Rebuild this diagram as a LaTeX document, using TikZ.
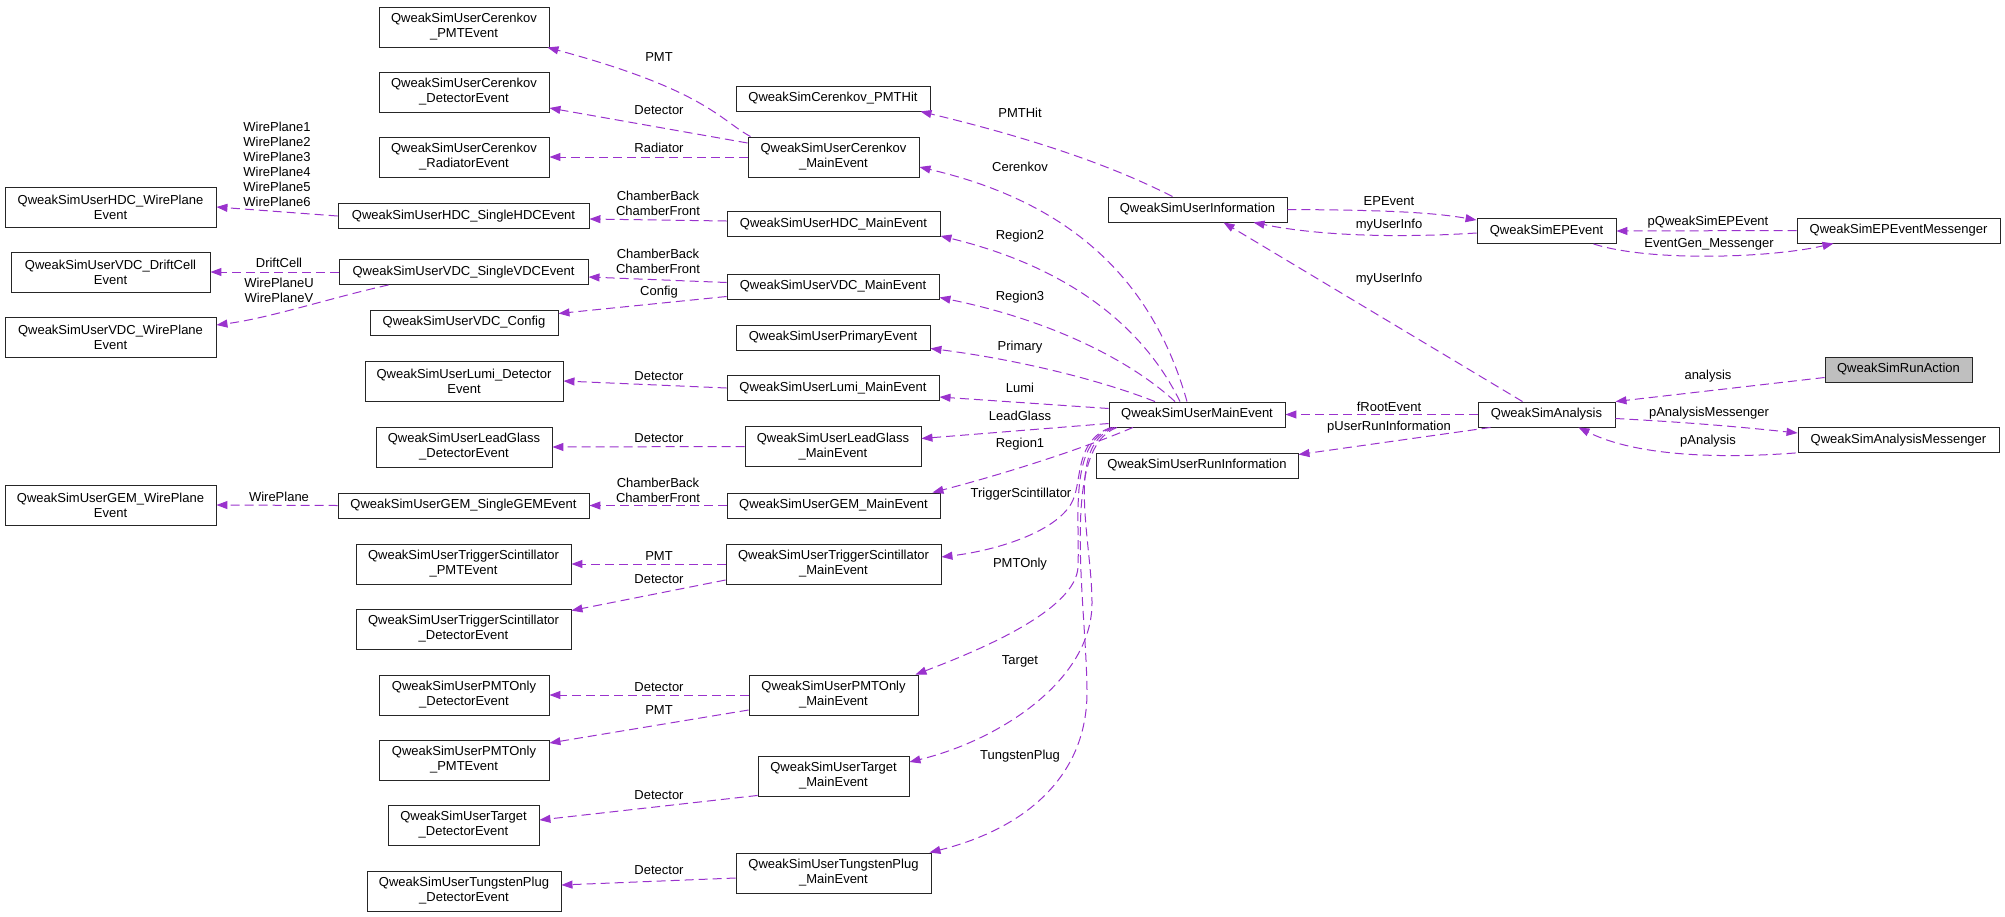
\documentclass[tikz,border=0pt]{standalone}
\usepackage{fontspec}
\setmainfont{Liberation Sans}
\usetikzlibrary{arrows.meta,positioning}
\definecolor{edgepurple}{HTML}{9A32CD}
\definecolor{rootgray}{HTML}{BFBFBF}

\begin{document}
\begin{tikzpicture}[x=1pt,y=-1pt,
    member/.style={draw=edgepurple,line width=1pt,dash pattern=on 9pt off 5pt,-{Triangle[length=11pt,width=8pt]}},
    lbl/.style={inner sep=0pt,font=\fontsize{13}{15}\selectfont,align=center}]%
                    \useasboundingbox (0,0) rectangle (2005,916);%%
                    \begin{scope}
                        \tikzstyle{every node}=[draw=black!85,fill=white,line width=0.9pt,inner sep=0pt,minimum height=25pt,align=center,font=\fontsize{13}{15}\selectfont];%%
                        \tikzstyle{tall}=[minimum height=40pt];%%
                        % left columns
                        \node[minimum width=170,tall] (cerPMT) at (464,27) {QweakSimUserCerenkov\\\_PMTEvent}; %%
                        \node[minimum width=170,tall] (cerDet) at (464,92) {QweakSimUserCerenkov\\\_DetectorEvent}; %%
                        \node[minimum width=170,tall] (cerRad) at (464,157) {QweakSimUserCerenkov\\\_RadiatorEvent}; %%
                        \node[minimum width=211,tall] (hdcWP) at (110.5,207) {QweakSimUserHDC\_WirePlane\\Event}; %%
                        \node[minimum width=251] (hdcSingle) at (463.5,216) {QweakSimUserHDC\_SingleHDCEvent}; %%
                        \node[minimum width=199,tall] (vdcDC) at (110.5,272) {QweakSimUserVDC\_DriftCell\\Event}; %%
                        \node[minimum width=249] (vdcSingle) at (463.5,272) {QweakSimUserVDC\_SingleVDCEvent}; %%
                        \node[minimum width=211,tall] (vdcWP) at (110.5,337) {QweakSimUserVDC\_WirePlane\\Event}; %%
                        \node[minimum width=188] (vdcCfg) at (464,322.5) {QweakSimUserVDC\_Config}; %%
                        \node[minimum width=198,tall] (lumiDet) at (464,381) {QweakSimUserLumi\_Detector\\Event}; %%
                        \node[minimum width=176,tall] (lgDet) at (464,447) {QweakSimUserLeadGlass\\\_DetectorEvent}; %%
                        \node[minimum width=211,tall] (gemWP) at (110.5,505) {QweakSimUserGEM\_WirePlane\\Event}; %%
                        \node[minimum width=251] (gemSingle) at (463.5,505.5) {QweakSimUserGEM\_SingleGEMEvent}; %%
                        \node[minimum width=215,tall] (tsPMT) at (463.5,564) {QweakSimUserTriggerScintillator\\\_PMTEvent}; %%
                        \node[minimum width=215,tall] (tsDet) at (463.5,629) {QweakSimUserTriggerScintillator\\\_DetectorEvent}; %%
                        \node[minimum width=170,tall] (pmtoDet) at (464,695) {QweakSimUserPMTOnly\\\_DetectorEvent}; %%
                        \node[minimum width=170,tall] (pmtoPMT) at (464,760) {QweakSimUserPMTOnly\\\_PMTEvent}; %%
                        \node[minimum width=151,tall] (tgtDet) at (463.5,825) {QweakSimUserTarget\\\_DetectorEvent}; %%
                        \node[minimum width=194,tall] (twDet) at (464,891) {QweakSimUserTungstenPlug\\\_DetectorEvent}; %%
                        % detector main events
                        \node[minimum width=194] (cerHit) at (833,98.5) {QweakSimCerenkov\_PMTHit}; %%
                        \node[minimum width=171,tall] (cerMain) at (833.5,157) {QweakSimUserCerenkov\\\_MainEvent}; %%
                        \node[minimum width=213] (hdcMain) at (833.5,224) {QweakSimUserHDC\_MainEvent}; %%
                        \node[minimum width=212] (vdcMain) at (833,286.5) {QweakSimUserVDC\_MainEvent}; %%
                        \node[minimum width=194] (primEv) at (833,337.5) {QweakSimUserPrimaryEvent}; %%
                        \node[minimum width=212] (lumiMain) at (833,388) {QweakSimUserLumi\_MainEvent}; %%
                        \node[minimum width=176,tall] (lgMain) at (833,446.5) {QweakSimUserLeadGlass\\\_MainEvent}; %%
                        \node[minimum width=213] (gemMain) at (833.5,505.5) {QweakSimUserGEM\_MainEvent}; %%
                        \node[minimum width=215,tall] (tsMain) at (833.5,564) {QweakSimUserTriggerScintillator\\\_MainEvent}; %%
                        \node[minimum width=169,tall] (pmtoMain) at (833.5,695) {QweakSimUserPMTOnly\\\_MainEvent}; %%
                        \node[minimum width=151,tall] (tgtMain) at (833.5,776) {QweakSimUserTarget\\\_MainEvent}; %%
                        \node[minimum width=195,tall] (twMain) at (833.5,873) {QweakSimUserTungstenPlug\\\_MainEvent}; %%
                        % right part
                        \node[minimum width=179] (userInfo) at (1197.5,209.5) {QweakSimUserInformation}; %%
                        \node[minimum width=176] (mainEv) at (1197,414.5) {QweakSimUserMainEvent}; %%
                        \node[minimum width=202] (runInfo) at (1197,465.5) {QweakSimUserRunInformation}; %%
                        \node[minimum width=139] (epEv) at (1546.5,231) {QweakSimEPEvent}; %%
                        \node[minimum width=137] (analysis) at (1546.5,414.5) {QweakSimAnalysis}; %%
                        \node[minimum width=203] (epMsg) at (1898.5,230.5) {QweakSimEPEventMessenger}; %%
                        \node[minimum width=147,fill=rootgray] (runAct) at (1898.5,369.5) {QweakSimRunAction}; %%
                        \node[minimum width=201] (anaMsg) at (1898.5,440) {QweakSimAnalysisMessenger}; %%
                    \end{scope}
                        % edge labels
                        \node[lbl] (lCerPMT) at (659,57) {PMT}; %%
                        \node[lbl] (lCerDet) at (659,110) {Detector}; %%
                        \node[lbl] (lCerRad) at (659,148) {Radiator}; %%
                        \node[lbl] (lHdcWP) at (277,164) {WirePlane1\\WirePlane2\\WirePlane3\\WirePlane4\\WirePlane5\\WirePlane6}; %%
                        \node[lbl] (lHdcCh) at (658,203) {ChamberBack\\ChamberFront}; %%
                        \node[lbl] (lVdcDC) at (279,263) {DriftCell}; %%
                        \node[lbl] (lVdcWP) at (279,290.5) {WirePlaneU\\WirePlaneV}; %%
                        \node[lbl] (lVdcCh) at (658,261) {ChamberBack\\ChamberFront}; %%
                        \node[lbl] (lVdcCfg) at (659,292) {Config}; %%
                        \node[lbl] (lLumiDet) at (659,376) {Detector}; %%
                        \node[lbl] (lLgDet) at (659,438) {Detector}; %%
                        \node[lbl] (lGemWP) at (279,497) {WirePlane}; %%
                        \node[lbl] (lGemCh) at (658,490) {ChamberBack\\ChamberFront}; %%
                        \node[lbl] (lTsPMT) at (659,556) {PMT}; %%
                        \node[lbl] (lTsDet) at (659,579) {Detector}; %%
                        \node[lbl] (lPmtoDet) at (659,687) {Detector}; %%
                        \node[lbl] (lPmtoPMT) at (659,710) {PMT}; %%
                        \node[lbl] (lTgtDet) at (659,795) {Detector}; %%
                        \node[lbl] (lTwDet) at (659,870) {Detector}; %%
                        \node[lbl] (lHit) at (1020,113) {PMTHit}; %%
                        \node[lbl] (lCer) at (1020,167) {Cerenkov}; %%
                        \node[lbl] (lR2) at (1020,236) {Region2}; %%
                        \node[lbl] (lR3) at (1020,297) {Region3}; %%
                        \node[lbl] (lPrim) at (1020,347) {Primary}; %%
                        \node[lbl] (lLumi) at (1020,388) {Lumi}; %%
                        \node[lbl] (lLg) at (1020,416) {LeadGlass}; %%
                        \node[lbl] (lR1) at (1020,444) {Region1}; %%
                        \node[lbl] (lTs) at (1021,494) {TriggerScintillator}; %%
                        \node[lbl] (lPmto) at (1020,564) {PMTOnly}; %%
                        \node[lbl] (lTgt) at (1020,661) {Target}; %%
                        \node[lbl] (lTw) at (1020,756) {TungstenPlug}; %%
                        \node[lbl] (lEP) at (1389,201) {EPEvent}; %%
                        \node[lbl] (lInfoA) at (1389,225) {myUserInfo}; %%
                        \node[lbl] (lInfoB) at (1389,279) {myUserInfo}; %%
                        \node[lbl] (lRoot) at (1389,407) {fRootEvent}; %%
                        \node[lbl] (lRunInfo) at (1389,427) {pUserRunInformation}; %%
                        \node[lbl] (lPEP) at (1708,222) {pQweakSimEPEvent}; %%
                        \node[lbl] (lGen) at (1709,244) {EventGen\_Messenger}; %%
                        \node[lbl] (lAna) at (1708,376) {analysis}; %%
                        \node[lbl] (lAnaMsg) at (1709,413) {pAnalysisMessenger}; %%
                        \node[lbl] (lPAna) at (1708,441) {pAnalysis}; %%
                        % left edges
                        \draw[member] ([xshift=3pt]cerMain.north west) .. controls (720,120) and (705,90) .. ([xshift=-2pt]cerPMT.south east); %%
                        \draw[member] ([yshift=14pt]cerMain.west) -- ([yshift=-16pt]cerDet.east); %%
                        \draw[member] (cerMain.west) -- (cerRad.east); %%
                        \draw[member] (hdcSingle.west) -- (hdcWP.east); %%
                        \draw[member] ([yshift=3pt]hdcMain.west) -- ([yshift=-3pt]hdcSingle.east); %%
                        \draw[member] (vdcSingle.west) -- (vdcDC.east); %%
                        \draw[member] ([xshift=-75pt]vdcSingle.south) .. controls (330,298) and (270,318) .. ([yshift=12pt]vdcWP.east); %%
                        \draw[member] ([yshift=4pt]vdcMain.west) -- ([yshift=-5pt]vdcSingle.east); %%
                        \draw[member] ([yshift=-10pt]vdcMain.west) -- ([yshift=9pt]vdcCfg.east); %%
                        \draw[member] (lumiMain.west) -- (lumiDet.east); %%
                        \draw[member] (lgMain.west) -- (lgDet.east); %%
                        \draw[member] (gemSingle.west) -- (gemWP.east); %%
                        \draw[member] (gemMain.west) -- (gemSingle.east); %%
                        \draw[member] (tsMain.west) -- (tsPMT.east); %%
                        \draw[member] ([yshift=-16pt]tsMain.west) -- ([yshift=-2pt]tsDet.north east); %%
                        \draw[member] (pmtoMain.west) -- (pmtoDet.east); %%
                        \draw[member] ([yshift=-15pt]pmtoMain.west) -- ([yshift=17pt]pmtoPMT.east); %%
                        \draw[member] ([yshift=1pt]tgtMain.south west) -- ([yshift=5pt]tgtDet.east); %%
                        \draw[member] ([yshift=-5pt]twMain.west) -- ([yshift=6pt]twDet.east); %%
                        % main event edges
                        \draw[member] ([xshift=-25pt]userInfo.north) .. controls (1130,175) and (1060,145) .. ([xshift=-10pt]cerHit.south east); %%
                        \draw[member] ([xshift=-10pt]mainEv.north) .. controls (1150,270) and (1060,200) .. ([yshift=-10pt]cerMain.east); %%
                        \draw[member] ([xshift=-17pt]mainEv.north) .. controls (1140,320) and (1060,265) .. ([yshift=1pt]hdcMain.south east); %%
                        \draw[member] ([xshift=-22pt]mainEv.north) .. controls (1130,360) and (1050,320) .. ([yshift=2pt]vdcMain.south east); %%
                        \draw[member] ([xshift=-42pt]mainEv.north) .. controls (1100,380) and (1020,360) .. ([yshift=2pt]primEv.south east); %%
                        \draw[member] ([yshift=6pt]mainEv.west) -- ([yshift=-9pt]lumiMain.east); %%
                        \draw[member] ([yshift=-9pt]mainEv.west) -- ([yshift=8pt]lgMain.east); %%
                        \draw[member] ([xshift=-64pt]mainEv.south) .. controls (1080,450) and (1000,475) .. ([xshift=-8pt]gemMain.north east); %%
                        \draw[member] ([xshift=-86pt]mainEv.south) .. controls (1075,440) and (1082,480) .. (1073,500) .. controls (1060,530) and (1000,550) .. ([yshift=7pt]tsMain.east); %%
                        \draw[member] ([xshift=-84pt]mainEv.south) .. controls (1068,442) and (1080,520) .. (1078,567) .. controls (1076,610) and (980,650) .. ([xshift=-3pt]pmtoMain.north east); %%
                        \draw[member] ([xshift=-82pt]mainEv.south) .. controls (1064,445) and (1092,540) .. (1092,603) .. controls (1092,680) and (1000,740) .. ([yshift=14pt]tgtMain.east); %%
                        \draw[member] ([xshift=-80pt]mainEv.south) .. controls (1060,448) and (1086,600) .. (1087,690) .. controls (1088,780) and (1020,830) .. ([xshift=-2pt]twMain.north east); %%
                        % right edges
                        \draw[member] (userInfo.east) .. controls (1380,210) and (1430,212) .. ([yshift=-2pt]epEv.north west); %%
                        \draw[member] ([yshift=-2pt]epEv.west) .. controls (1400,238) and (1320,236) .. ([xshift=56pt]userInfo.south); %%
                        \draw[member] (epMsg.west) -- (epEv.east); %%
                        \draw[member] ([xshift=47pt]epEv.south) .. controls (1650,262) and (1770,258) .. ([xshift=-65pt]epMsg.south); %%
                        \draw[member] ([xshift=-24pt]analysis.north) -- ([xshift=26pt]userInfo.south); %%
                        \draw[member] (analysis.west) -- (mainEv.east); %%
                        \draw[member] ([xshift=-56pt]analysis.south) -- ([yshift=-2pt]runInfo.north east); %%
                        \draw[member] ([yshift=-8pt]runAct.west) -- (analysis.north east); %%
                        \draw[member] ([yshift=-4pt]analysis.east) .. controls (1700,423) and (1750,428) .. ([yshift=7pt]anaMsg.west); %%
                        \draw[member] ([xshift=-2pt]anaMsg.south west) .. controls (1730,458) and (1640,458) .. ([xshift=32pt]analysis.south); %%
                    \end{tikzpicture}
\end{document}
